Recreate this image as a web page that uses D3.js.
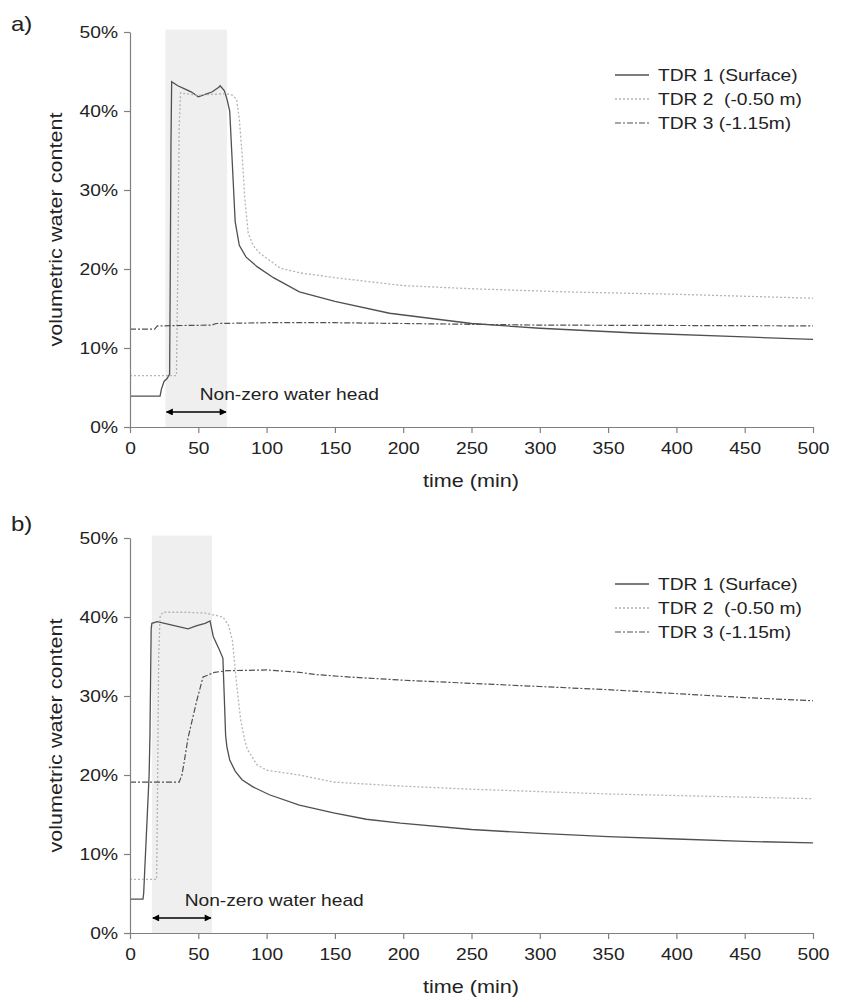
<!DOCTYPE html>
<html>
<head>
<meta charset="utf-8">
<script src="https://cdn.jsdelivr.net/npm/d3@7"></script>
<style>
  body { margin: 0; background: #fff; }
  svg { display: block; font-family: "Liberation Sans", Arial, sans-serif; }
</style>
</head>
<body>
<svg id="chart" width="844" height="1006"></svg>
<script>
// ---- data (time in min, volumetric water content in %) ----
var xTicks = [0, 50, 100, 150, 200, 250, 300, 350, 400, 450, 500];
var yTicks = [0, 10, 20, 30, 40, 50];
var seriesNames = ["TDR 1 (Surface)", "TDR 2  (-0.50 m)", "TDR 3 (-1.15m)"];

var aTdr1 = [[0,3.9],[22,3.9],[23,4.8],[25,5.8],[27,6.1],[29,6.7],[29.5,20],[30,36],[30.5,43.7],
  [35,43.2],[40,42.8],[45,42.4],[50,41.8],[55,42.1],[60,42.4],[65,43.0],[66,43.2],[69,42.6],[71,41.5],
  [73,40],[75,33],[77,26],[80,23],[85,21.5],[93,20.3],[105,18.9],[124,17.1],[150,15.9],[190,14.4],
  [250,13.1],[300,12.5],[370,11.9],[450,11.4],[500,11.1]];
var aTdr2 = [[0,6.5],[34,6.5],[35,20],[36,38],[37,42.3],[40,42.2],[50,42.0],[60,42.1],[70,42.2],
  [75,42.0],[78,41.5],[80,39],[82,34.7],[84,29],[86.5,24.6],[90,23],[95,22.0],[110,20.1],[125,19.5],
  [150,18.9],[200,17.9],[250,17.5],[320,17.1],[400,16.8],[500,16.3]];
var aTdr3 = [[0,12.4],[18,12.4],[20,12.8],[60,12.9],[63,13.1],[100,13.2],[150,13.2],[200,13.1],
  [300,12.9],[500,12.8]];

var bTdr1 = [[0,4.3],[9.5,4.3],[10,5],[14,20],[14.6,25],[15.5,38.5],[16,39.2],[20,39.4],[30,39.0],
  [42.5,38.5],[49,38.9],[55,39.2],[58.6,39.5],[61,37.5],[65,36],[68,34.8],[69,30],[70,25],[71,23.5],
  [73,21.9],[77,20.5],[82,19.4],[90,18.5],[102,17.5],[124,16.2],[149,15.2],[173,14.4],[198,13.9],
  [250,13.1],[300,12.6],[350,12.2],[400,11.9],[450,11.6],[500,11.4]];
var bTdr2 = [[0,6.8],[19.5,6.8],[20,15],[21,35],[22,40],[24,40.6],[40,40.6],[55,40.5],[68,40.0],
  [72,39],[75,37],[78,31.6],[81,27],[84,24.4],[86,23.2],[93,21.3],[100,20.6],[124,20.0],[149,19.1],
  [198,18.6],[250,18.2],[300,17.9],[350,17.6],[400,17.4],[450,17.2],[500,17.0]];
var bTdr3 = [[0,19.1],[36,19.1],[38,20],[40,22],[42.5,24.7],[49,29.5],[53.5,32.4],[62,33.0],
  [71,33.2],[100,33.3],[124,33.0],[137,32.7],[161,32.4],[200,32.0],[250,31.6],[300,31.2],
  [350,30.8],[400,30.3],[450,29.8],[500,29.4]];

// ponding period (non-zero water head)
var aShade = [26, 71];
var bShade = [16, 60];
var aNoteX = 51, bNoteX = 40;

var panels = [
  { label: "a)", top: 32, bottom: 427, shade: aShade, noteX: aNoteX, series: [aTdr1, aTdr2, aTdr3], legendY: 75, labelY: 31 },
  { label: "b)", top: 538, bottom: 933, shade: bShade, noteX: bNoteX, series: [bTdr1, bTdr2, bTdr3], legendY: 584, labelY: 531 }
];

var styles = [
  { stroke: "#505050", dash: null, width: 1.3 },
  { stroke: "#b4b4b4", dash: "2,2", width: 1.3 },
  { stroke: "#505050", dash: "6,2,2,2", width: 1.2 }
];

// the original text is a little wide, stretch it horizontally
function stretch(sel) {
  sel.each(function() {
    var t = d3.select(this);
    var tx = +t.attr("x") || 0, ty = +t.attr("y") || 0;
    var prev = t.attr("transform") || "";
    t.attr("x", 0).attr("y", 0)
      .attr("transform", prev + ` translate(${tx},${ty}) scale(1.2,1)`);
  });
}

var svg = d3.select("#chart");
var defs = svg.append("defs");
defs.append("marker").attr("id", "arr").attr("viewBox", "0 0 10 10")
  .attr("refX", 9).attr("refY", 5).attr("markerWidth", 9).attr("markerHeight", 7)
  .attr("markerUnits", "userSpaceOnUse").attr("orient", "auto-start-reverse")
  .append("path").attr("d", "M0,0L10,5L0,10Z").attr("fill", "#000");

var x = d3.scaleLinear().domain([0, 500]).range([130, 813]);

panels.forEach(function(p) {
  var y = d3.scaleLinear().domain([0, 50]).range([p.bottom, p.top]);
  var g = svg.append("g");

  g.append("rect")
    .attr("x", x(p.shade[0])).attr("width", x(p.shade[1]) - x(p.shade[0]))
    .attr("y", y(50.3)).attr("height", y(0) - y(50.3))
    .attr("fill", "#efefef");

  var line = d3.line().x(d => x(d[0])).y(d => y(d[1]));
  g.selectAll("path.series").data(p.series).enter().append("path")
    .attr("class", "series")
    .attr("d", line)
    .attr("fill", "none")
    .attr("stroke", (d, i) => styles[i].stroke)
    .attr("stroke-width", (d, i) => styles[i].width)
    .attr("stroke-dasharray", (d, i) => styles[i].dash);

  // axes
  var xAxis = g.append("g").attr("transform", `translate(0,${y(0)})`)
    .call(d3.axisBottom(x).tickValues(xTicks).tickSize(6).tickSizeOuter(0).tickPadding(10));
  var yAxis = g.append("g").attr("transform", `translate(${x(0)},0)`)
    .call(d3.axisLeft(y).tickValues(yTicks).tickSize(6).tickSizeOuter(0).tickFormat(d => d + "%").tickPadding(6));
  [xAxis, yAxis].forEach(a => {
    a.select(".domain").attr("stroke", "#808080").attr("stroke-width", 1.2);
    a.selectAll(".tick line").attr("stroke", "#808080").attr("stroke-width", 1.2);
    a.selectAll(".tick text").attr("fill", "#222").style("font-size", "16px");
  });
  xAxis.selectAll(".tick text").attr("dy", "0.71em");
  yAxis.selectAll(".tick text").attr("dy", "0.36em");
  stretch(xAxis.selectAll(".tick text"));
  stretch(yAxis.selectAll(".tick text"));

  var t1 = g.append("text").attr("x", 471).attr("y", y(0) + 60)
    .attr("text-anchor", "middle").attr("fill", "#222").style("font-size", "18px")
    .text("time (min)");
  var t2 = g.append("text")
    .attr("transform", `translate(62,${(y(0) + y(50)) / 2}) rotate(-90)`)
    .attr("text-anchor", "middle").attr("fill", "#222").style("font-size", "18px")
    .text("volumetric water content");
  var t3 = g.append("text").attr("x", 11).attr("y", p.labelY)
    .attr("fill", "#222").style("font-size", "20px").text(p.label);
  stretch(t1); stretch(t2); stretch(t3);

  // annotation
  g.append("line")
    .attr("x1", x(p.shade[0]) + 1).attr("x2", x(p.shade[1]) - 1)
    .attr("y1", y(1.9)).attr("y2", y(1.9))
    .attr("stroke", "#000").attr("stroke-width", 1.5)
    .attr("marker-start", "url(#arr)").attr("marker-end", "url(#arr)");
  var note = g.append("text").attr("x", x(p.noteX)).attr("y", y(3.4))
    .attr("fill", "#222").style("font-size", "16px").text("Non-zero water head");
  stretch(note);

  // legend
  var leg = g.selectAll("g.leg").data(seriesNames).enter().append("g")
    .attr("class", "leg")
    .attr("transform", (d, i) => `translate(615,${p.legendY + i * 24})`);
  leg.append("line").attr("x1", 0).attr("x2", 34)
    .attr("stroke", (d, i) => styles[i].stroke)
    .attr("stroke-width", (d, i) => styles[i].width)
    .attr("stroke-dasharray", (d, i) => styles[i].dash);
  var lt = leg.append("text").attr("x", 43).attr("dy", "0.36em")
    .attr("fill", "#222").style("font-size", "16px")
    .style("white-space", "pre")
    .text(d => d);
  stretch(lt);
});
</script>
</body>
</html>
